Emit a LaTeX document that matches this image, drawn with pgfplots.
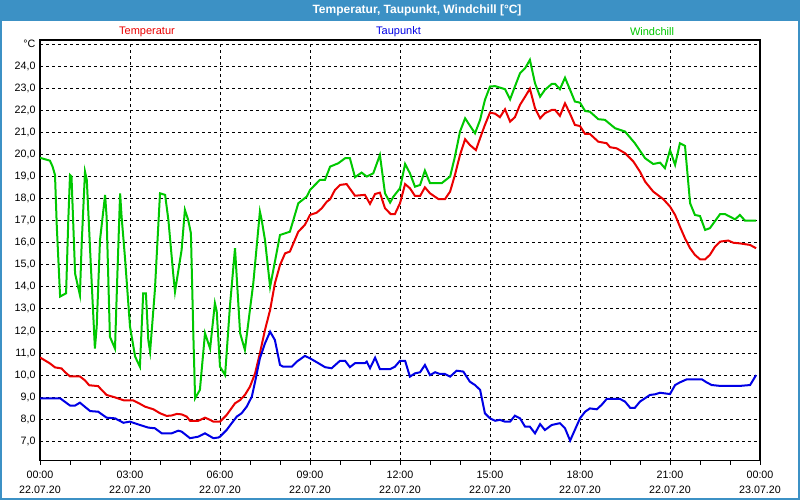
\documentclass[border=0pt]{standalone}
\usepackage{fontspec}
\setmainfont{Liberation Sans}
\usepackage{pgfplots}
\pgfplotsset{compat=1.18}
\definecolor{titleblue}{RGB}{60,145,197}
\definecolor{cred}{RGB}{235,0,0}
\definecolor{cblue}{RGB}{0,0,230}
\definecolor{cgreen}{RGB}{0,200,0}
\begin{document}
\begin{tikzpicture}[x=1pt,y=1pt]
\path[use as bounding box, fill=white] (0,0) rectangle (800,500);
\fill[titleblue] (0,479.3) rectangle (800,500);
\node[text=white, font=\fontsize{12}{14}\selectfont\bfseries] at (417,490) {Temperatur, Taupunkt, Windchill [°C]};
\draw[titleblue, line width=2pt] (1,480) -- (1,1) -- (799,1) -- (799,480);
\node[text=cred, font=\fontsize{11}{13}\selectfont] at (147,468) {Temperatur};
\node[text=cblue, font=\fontsize{11}{13}\selectfont] at (398.5,468) {Taupunkt};
\node[text=cgreen, font=\fontsize{11}{13}\selectfont] at (652,468) {Windchill};
\begin{axis}[
  at={(40pt,39.3pt)}, anchor=south west, scale only axis,
  width=720pt, height=420.7pt,
  xmin=0, xmax=24, ymin=6.12, ymax=25.19,
  xtick={0,3,...,24},
  minor xtick={1,2,4,5,7,8,10,11,13,14,16,17,19,20,22,23},
  xticklabels={{00:00\\22.07.20},{03:00\\22.07.20},{06:00\\22.07.20},{09:00\\22.07.20},{12:00\\22.07.20},{15:00\\22.07.20},{18:00\\22.07.20},{21:00\\22.07.20},{00:00\\23.07.20}},
  ytick={7,8,...,25},
  yticklabels={{7,0},{8,0},{9,0},{10,0},{11,0},{12,0},{13,0},{14,0},{15,0},{16,0},{17,0},{18,0},{19,0},{20,0},{21,0},{22,0},{23,0},{24,0},{°C}},
  grid=major,
  major grid style={black, dash pattern=on 3pt off 3pt, line width=0.9pt},
  axis line style={black, line width=1.2pt},
  xtick pos=bottom, ytick pos=left,
  xtick align=outside,
  xtick style={black, line width=0.9pt},
  minor x tick style={black, line width=0.9pt},
  ytick style={draw=none},
  major tick length=4pt, minor tick length=4pt,
  tick label style={font=\fontsize{10.7}{15}\selectfont, text=black},
  xticklabel style={align=center, yshift=-3pt},
  yticklabel style={xshift=-1pt},
  clip=true,
]
\addplot[cgreen, line width=2pt, no marks] table {
0 19.85
0.33 19.72
0.42 19.45
0.5 19.07
0.56 16.73
0.67 13.56
0.87 13.71
0.94 16.9
1.0 19.07
1.05 19.0
1.17 14.6
1.33 13.63
1.39 15.98
1.5 19.22
1.56 18.85
1.67 15.67
1.83 11.2
1.89 12.2
2.0 16.12
2.17 18.17
2.22 17.18
2.33 11.74
2.5 11.2
2.58 14.6
2.67 18.24
2.72 17.18
2.83 15.37
3.0 12.2
3.17 10.84
3.33 10.38
3.44 13.71
3.53 13.71
3.61 11.59
3.67 11.06
3.83 13.86
4.0 18.24
4.17 18.17
4.28 17.03
4.44 14.6
4.5 13.78
4.72 15.67
4.83 17.49
4.94 17.03
5.03 16.43
5.11 11.9
5.17 8.95
5.33 9.33
5.5 11.9
5.67 11.2
5.83 13.26
5.89 12.9
6.0 10.38
6.17 10.0
6.33 13.1
6.5 15.75
6.67 11.9
6.83 11.14
7.11 14.17
7.33 17.41
7.39 17.03
7.5 16.12
7.67 14.0
8.0 16.35
8.33 16.5
8.61 17.79
8.89 18.09
9.0 18.39
9.33 18.85
9.5 18.85
9.67 19.45
9.94 19.6
10.17 19.83
10.33 19.83
10.5 18.97
10.72 19.18
10.89 19.0
11.11 19.15
11.33 19.98
11.5 18.24
11.67 17.82
11.78 18.09
12.0 18.47
12.17 19.57
12.33 19.15
12.5 18.54
12.67 18.62
12.83 19.27
13.0 18.7
13.39 18.7
13.67 19.0
13.83 19.9
14.0 21.04
14.17 21.64
14.5 20.96
14.67 21.57
14.83 22.47
15.0 23.08
15.17 23.1
15.5 22.96
15.67 22.5
15.83 23.08
16.0 23.68
16.17 23.91
16.33 24.29
16.5 23.23
16.67 22.62
16.83 22.93
17.06 23.2
17.17 23.2
17.33 22.96
17.5 23.48
17.67 22.93
17.83 22.4
18.0 22.35
18.17 21.97
18.33 21.94
18.61 21.6
18.83 21.57
19.17 21.19
19.5 21.04
19.83 20.51
20.17 19.83
20.44 19.57
20.67 19.63
20.83 19.38
21.0 20.2
21.17 19.53
21.33 20.51
21.5 20.39
21.67 17.79
21.83 17.26
22.0 17.21
22.17 16.58
22.33 16.66
22.67 17.3
22.83 17.3
23.17 17.06
23.33 17.26
23.5 17.0
23.87 17.0
};
\addplot[cred, line width=2pt, no marks] table {
0 10.8
0.33 10.53
0.5 10.35
0.72 10.3
0.83 10.14
1.0 9.94
1.33 9.94
1.5 9.76
1.64 9.54
1.94 9.5
2.06 9.32
2.22 9.1
2.5 8.99
2.78 8.86
3.11 8.85
3.33 8.7
3.5 8.57
3.78 8.45
4.0 8.27
4.22 8.15
4.39 8.17
4.56 8.24
4.72 8.22
4.89 8.12
5.0 7.93
5.28 7.93
5.5 8.07
5.67 7.97
5.78 7.89
6.0 7.89
6.22 8.19
6.5 8.72
6.67 8.87
6.83 9.1
7.0 9.48
7.17 10.08
7.33 10.99
7.5 12.05
7.67 12.95
7.83 14.16
8.0 14.99
8.17 15.52
8.33 15.6
8.61 16.5
8.83 16.81
9.0 17.26
9.22 17.36
9.39 17.56
9.56 17.86
9.67 17.97
9.83 18.39
10.0 18.62
10.22 18.66
10.5 18.13
10.83 18.17
11.0 17.76
11.17 18.21
11.33 18.27
11.5 17.56
11.69 17.3
11.83 17.3
12.0 17.79
12.17 18.66
12.33 18.47
12.5 18.12
12.67 18.12
12.83 18.51
13.0 18.24
13.28 17.98
13.5 17.98
13.67 18.32
13.83 19.07
14.0 19.98
14.17 20.69
14.33 20.43
14.53 20.2
14.67 20.74
14.83 21.34
15.0 21.9
15.17 21.85
15.33 21.69
15.5 22.05
15.67 21.49
15.83 21.69
16.0 22.25
16.17 22.62
16.33 22.98
16.5 22.1
16.67 21.64
16.83 21.87
17.06 22.02
17.17 22.02
17.33 21.75
17.5 22.32
17.67 21.84
17.83 21.34
18.0 21.29
18.17 20.93
18.33 20.93
18.61 20.58
18.89 20.51
19.0 20.33
19.22 20.28
19.5 20.06
19.78 19.68
20.0 19.22
20.17 18.77
20.44 18.32
20.78 17.97
21.0 17.64
21.17 17.26
21.33 16.73
21.5 16.2
21.67 15.75
21.83 15.45
22.0 15.25
22.17 15.25
22.33 15.45
22.5 15.82
22.67 16.05
22.94 16.1
23.11 16.0
23.33 15.97
23.67 15.9
23.87 15.75
};
\addplot[cblue, line width=2pt, no marks] table {
0 8.95
0.67 8.95
1.0 8.62
1.17 8.62
1.33 8.75
1.67 8.37
1.94 8.34
2.22 8.07
2.5 8.04
2.78 7.84
3.0 7.89
3.33 7.74
3.61 7.62
3.83 7.59
4.06 7.36
4.39 7.36
4.61 7.48
4.72 7.44
5.0 7.14
5.28 7.21
5.5 7.36
5.78 7.14
5.94 7.17
6.0 7.21
6.22 7.51
6.39 7.82
6.56 8.12
6.72 8.27
6.89 8.57
7.06 9.02
7.17 9.7
7.33 10.76
7.5 11.44
7.67 11.97
7.83 11.59
8.0 10.46
8.11 10.38
8.39 10.38
8.56 10.61
8.83 10.87
9.0 10.76
9.28 10.54
9.5 10.36
9.72 10.31
10.0 10.65
10.17 10.65
10.33 10.36
10.5 10.54
10.83 10.54
10.89 10.61
11.0 10.31
11.17 10.79
11.33 10.27
11.67 10.27
11.83 10.38
12.0 10.65
12.17 10.65
12.33 9.93
12.5 10.08
12.67 10.13
12.83 10.46
13.0 10.0
13.17 10.13
13.33 10.05
13.5 10.05
13.67 9.93
13.89 10.2
14.11 10.16
14.33 9.7
14.5 9.55
14.67 9.33
14.83 8.27
15.0 8.04
15.17 7.93
15.33 7.97
15.5 7.89
15.67 7.89
15.83 8.16
16.0 8.04
16.17 7.66
16.33 7.66
16.5 7.36
16.67 7.78
16.83 7.51
17.06 7.74
17.33 7.82
17.5 7.59
17.67 7.03
18.0 8.04
18.17 8.34
18.33 8.49
18.56 8.45
18.72 8.65
18.89 8.92
19.33 8.92
19.5 8.8
19.67 8.52
19.83 8.52
20.0 8.8
20.33 9.1
20.5 9.13
20.67 9.2
21.0 9.14
21.17 9.55
21.33 9.67
21.56 9.81
22.06 9.81
22.22 9.67
22.39 9.55
22.67 9.51
23.33 9.51
23.67 9.55
23.87 10.0
};
\end{axis}
\end{tikzpicture}
\end{document}
